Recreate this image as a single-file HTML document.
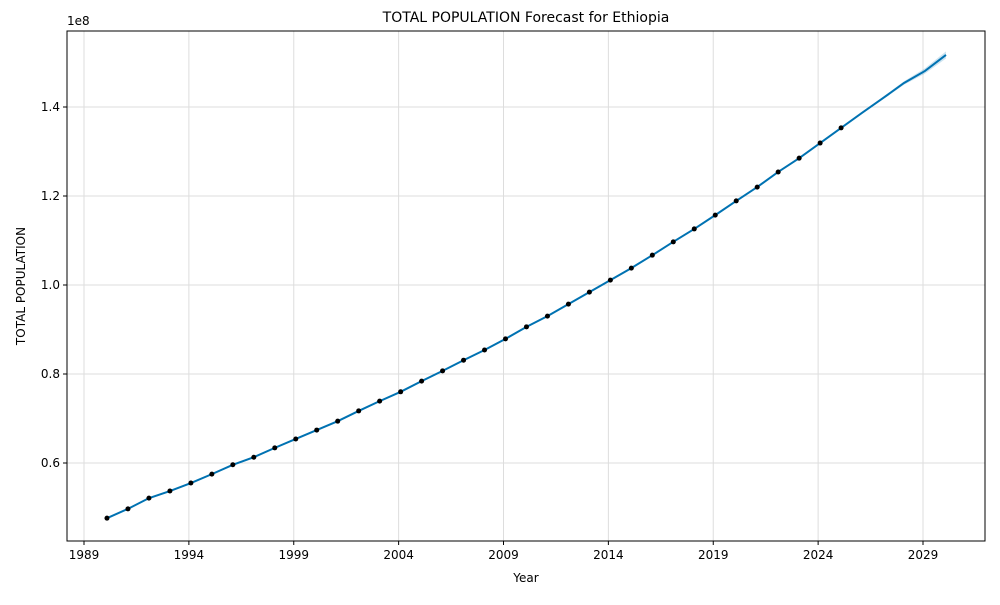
<!DOCTYPE html>
<html><head><meta charset="utf-8"><style>
body{margin:0;background:#fff;font-family:"Liberation Sans","DejaVu Sans",sans-serif}
svg text{font-family:"DejaVu Sans","Liberation Sans",sans-serif;fill:#000}
</style></head><body>
<svg id="c" width="1000" height="600"></svg>
<script>
const histYears=[1990,1991,1992,1993,1994,1995,1996,1997,1998,1999,2000,2001,2002,2003,2004,2005,2006,2007,2008,2009,2010,2011,2012,2013,2014,2015,2016,2017,2018,2019,2020,2021,2022,2023,2024,2025];
const histValues=[0.476,0.497,0.521,0.537,0.555,0.575,0.596,0.613,0.634,0.654,0.674,0.694,0.717,0.739,0.760,0.784,0.807,0.831,0.854,0.879,0.906,0.930,0.957,0.984,1.011,1.038,1.067,1.097,1.126,1.157,1.189,1.220,1.254,1.285,1.319,1.353];
const fcYears=[2026,2027,2028,2029,2030];
const fcValues=[1.387,1.420,1.454,1.481,1.517];
const fcBand=[0.002,0.003,0.004,0.006,0.008];
const xTicks=[1989,1994,1999,2004,2009,2014,2019,2024,2029];
const yTicks=[0.6,0.8,1.0,1.2,1.4];
const L=67,R=985,T=31,B=541;
function xs(yr,isData){return 84+(yr-1989)*20.975+(isData?2:0);}
function ys(v){return 463-(v-0.6)*445;}
const svg=document.getElementById('c');const NS='http://www.w3.org/2000/svg';
function el(t,a,p){const e=document.createElementNS(NS,t);for(const k in a)e.setAttribute(k,a[k]);(p||svg).appendChild(e);return e;}
xTicks.forEach(t=>{const g=el('line',{x1:xs(t),x2:xs(t),y1:T,y2:B,stroke:'#ddd','stroke-width':1});


const tk=el('line',{x1:xs(t),x2:xs(t),y1:B,y2:B+4,stroke:'#000'});


const tx=el('text',{x:xs(t),y:B+18,'text-anchor':'middle','font-size':12});tx.textContent=t;

});
yTicks.forEach(t=>{const g=el('line',{x1:L,x2:R,y1:ys(t),y2:ys(t),stroke:'#ddd','stroke-width':1});


const tk=el('line',{x1:L-4,x2:L,y1:ys(t),y2:ys(t),stroke:'#000'});


const tx=el('text',{x:L-7,y:ys(t)+4,'text-anchor':'end','font-size':12});tx.textContent=t.toFixed(1);

});
const allY=histYears.concat(fcYears),allV=histValues.concat(fcValues);
const bw=histYears.map(()=>0.001).concat(fcBand);
let up=allY.map((y,i)=>xs(y,1)+','+ys(allV[i]+bw[i])),dn=allY.map((y,i)=>xs(y,1)+','+ys(allV[i]-bw[i])).reverse();
const band=el('polygon',{points:up.concat(dn).join(' '),fill:'#0072B2','fill-opacity':0.2});


const line=el('polyline',{points:allY.map((y,i)=>xs(y,1)+','+ys(allV[i])).join(' '),fill:'none',stroke:'#0072B2','stroke-width':2});


histYears.forEach((y,i)=>{const c=el('circle',{cx:xs(y,1),cy:ys(histValues[i]),r:2.5,fill:'#000'});

});
const fr=el('rect',{x:L,y:T,width:R-L,height:B-T,fill:'none',stroke:'#000','stroke-width':1});


function txt(s,a,n){const t=el('text',a);t.textContent=s;return t;}
txt('TOTAL POPULATION Forecast for Ethiopia',{x:526,y:22,'text-anchor':'middle','font-size':14},'chart-title');
txt('1e8',{x:67,y:25,'font-size':12},'y-scale-label');
txt('Year',{x:526,y:582,'text-anchor':'middle','font-size':12},'x-axis-title');
txt('TOTAL POPULATION',{x:25,y:286,'text-anchor':'middle','font-size':12,transform:'rotate(-90 25 286)'},'y-axis-title');
</script>
</body></html>
